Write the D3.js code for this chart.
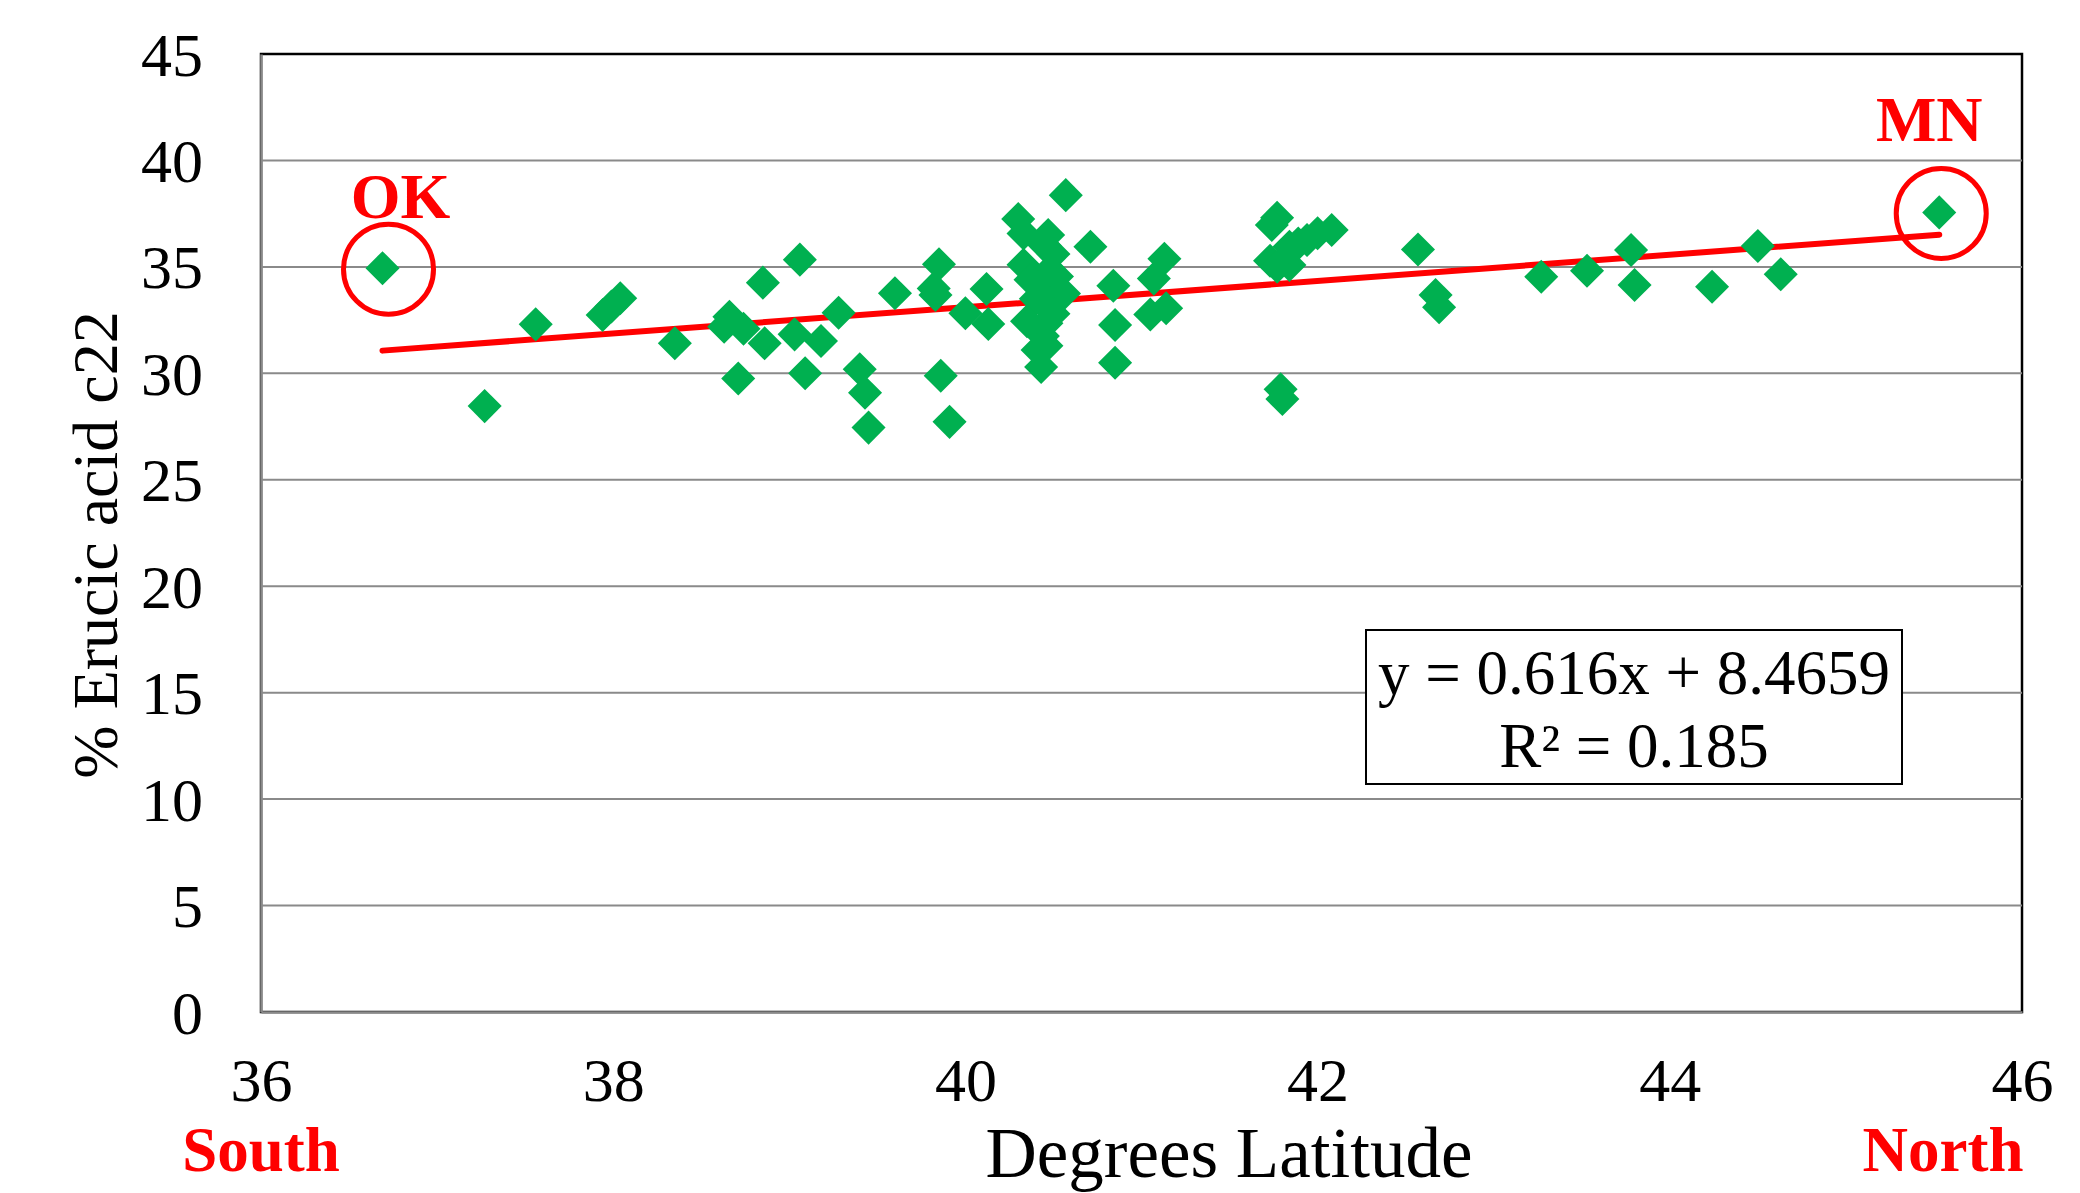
<!DOCTYPE html>
<html>
<head>
<meta charset="utf-8">
<script src="https://cdn.jsdelivr.net/npm/d3@7"></script>
<style>
	body { margin: 0; background: #fff; }
	text { font-family: "Liberation Serif", "Times New Roman", serif; }
</style>
</head>
<body>
<div id="chart"></div>
<script>

// latitude (x) and % erucic acid (y)
var latitude = [36.69, 37.27, 37.56, 37.94, 37.99, 38.04, 38.35, 38.66, 38.63, 38.74,
	38.85, 38.86, 39.06, 39.03, 39.18, 39.28, 38.71, 39.09, 39.40, 39.43,
	39.45, 39.60, 39.85, 39.82, 39.83, 39.86, 39.91, 40.12, 40.00, 40.13,
	40.57, 40.30, 40.33, 40.47, 40.45, 40.50, 40.33, 40.48, 40.37, 40.52,
	40.42, 40.56, 40.48, 40.40, 40.35, 40.46, 40.44, 40.41, 40.46, 40.43,
	40.50, 40.71, 40.84, 40.85, 40.85, 41.13, 41.07, 41.14, 41.05, 41.77,
	41.74, 41.73, 41.77, 41.84, 41.84, 41.89, 41.94, 42.00, 42.08, 42.57,
	42.67, 42.69, 41.79, 41.80, 43.27, 43.53, 43.78, 43.80, 44.24, 44.50,
	44.63, 45.53];
var erucic = [34.94, 28.46, 32.30, 32.74, 33.14, 33.53, 31.41, 32.66, 32.19, 32.09,
	34.26, 31.41, 35.34, 31.83, 31.52, 32.85, 29.76, 30.00, 30.19, 29.09,
	27.45, 33.76, 35.12, 33.99, 33.68, 29.89, 27.72, 33.96, 32.82, 32.32,
	38.37, 37.25, 36.57, 36.50, 36.00, 35.60, 35.10, 34.85, 34.40, 34.55,
	34.10, 33.75, 33.30, 33.50, 32.45, 32.35, 31.75, 31.10, 31.30, 30.30,
	32.80, 35.95, 34.11, 32.27, 30.50, 35.38, 34.45, 33.06, 32.76, 37.31,
	36.97, 35.29, 35.01, 35.09, 35.95, 36.10, 36.26, 36.58, 36.73, 35.82,
	33.68, 33.10, 29.25, 28.79, 34.54, 34.82, 35.79, 34.15, 34.07, 35.98,
	34.65, 37.56];

var xTicks = [36, 38, 40, 42, 44, 46];
var yTicks = [0, 5, 10, 15, 20, 25, 30, 35, 40, 45];

// linear trendline as printed on the chart
var slope = 0.616;
var intercept = 8.4659;
var eqLabels = ["y = 0.616x + 8.4659", "R\u00B2 = 0.185"];

// circled end points
var marked = [{ name: "OK", index: 0 }, { name: "MN", index: latitude.length - 1 }];

drawChart();

function drawChart(){

	var width = 2080, height = 1193;
	var left = 261, right = 2022, top = 54, bottom = 1012;

	var svg = d3.select("#chart").append("svg")
		.attr("width", width)
		.attr("height", height);

	var x = d3.scaleLinear().domain([36, 46]).range([left, right]);
	var y = d3.scaleLinear().domain([0, 45]).range([bottom, top]);

	// plot frame
	svg.append("rect").attr("x", left).attr("y", top)
		.attr("width", right - left).attr("height", bottom - top)
		.attr("fill", "none").attr("stroke", "#000").attr("stroke-width", 2.5);

	// gridlines
	svg.append("g").selectAll("line").data(yTicks.filter(function (d) { return d > 0 && d < 45; }))
		.enter().append("line")
		.attr("x1", left).attr("x2", right)
		.attr("y1", function (d) { return y(d); }).attr("y2", function (d) { return y(d); })
		.attr("stroke", "#8a8a8a").attr("stroke-width", 2);

	// axes
	var yAxis = svg.append("g").attr("transform", "translate(" + left + ",0)")
		.call(d3.axisLeft(y).tickValues(yTicks).tickSize(0).tickPadding(58));
	var xAxis = svg.append("g").attr("transform", "translate(0," + bottom + ")")
		.call(d3.axisBottom(x).tickValues(xTicks).tickSize(0).tickPadding(42));

	[yAxis, xAxis].forEach(function (ax) {
		ax.select(".domain").attr("stroke", "#8a8a8a").attr("stroke-width", 2.5);
		ax.selectAll("text").attr("fill", "#000").style("font-size", "62px")
			.style("font-family", "'Liberation Serif', 'Times New Roman', serif");
	});
	xAxis.selectAll("text").attr("dy", "0.75em");
	yAxis.selectAll("text").attr("dy", "0.34em");

	// trendline over the range of the data
	var xMin = d3.min(latitude), xMax = d3.max(latitude);
	svg.append("line")
		.attr("x1", x(xMin)).attr("y1", y(slope * xMin + intercept))
		.attr("x2", x(xMax)).attr("y2", y(slope * xMax + intercept))
		.attr("stroke", "#ff0000").attr("stroke-width", 6).attr("stroke-linecap", "round");

	// points
	var diamond = d3.symbol().type(d3.symbolSquare).size(580);
	svg.append("g").selectAll("path").data(latitude)
		.enter().append("path")
		.attr("d", diamond)
		.attr("transform", function (d, i) { return "translate(" + x(d) + "," + y(erucic[i]) + ") rotate(45)"; })
		.attr("fill", "#00b050");

	// circles and state labels
	marked.forEach(function (m) {
		var px = x(latitude[m.index]), py = y(erucic[m.index]);
		var dx = m.name == "OK" ? 6 : 2;
		svg.append("circle").attr("cx", px + dx).attr("cy", py + 1).attr("r", 45)
			.attr("fill", "none").attr("stroke", "#ff0000").attr("stroke-width", 5);
		svg.append("text").attr("x", px + (m.name == "OK" ? 18 : -10)).attr("y", py - (m.name == "OK" ? 50 : 71))
			.attr("text-anchor", "middle").attr("fill", "#ff0000")
			.style("font-size", "64px").style("font-weight", "bold").text(m.name);
	});

	// equation box
	svg.append("rect").attr("x", 1366).attr("y", 630).attr("width", 536).attr("height", 154)
		.attr("fill", "#fff").attr("stroke", "#000").attr("stroke-width", 2);
	svg.selectAll(".eq").data(eqLabels).enter().append("text")
		.attr("class", "eq")
		.attr("x", 1634).attr("y", function (d, i) { return 694 + i * 73; })
		.attr("text-anchor", "middle").style("font-size", "63px").text(function (d) { return d; });

	// axis titles
	svg.append("text").attr("x", 1229).attr("y", 1177).attr("text-anchor", "middle")
		.style("font-size", "71px").text("Degrees Latitude");
	svg.append("text").attr("transform", "translate(117,545) rotate(-90)").attr("text-anchor", "middle")
		.style("font-size", "64px").text("% Erucic acid c22");

	svg.append("text").attr("x", x(36)).attr("y", 1171).attr("text-anchor", "middle")
		.attr("fill", "#ff0000").style("font-size", "63px").style("font-weight", "bold").text("South");
	svg.append("text").attr("x", 1943).attr("y", 1171).attr("text-anchor", "middle")
		.attr("fill", "#ff0000").style("font-size", "63px").style("font-weight", "bold").text("North");
}

</script>
</body>
</html>
